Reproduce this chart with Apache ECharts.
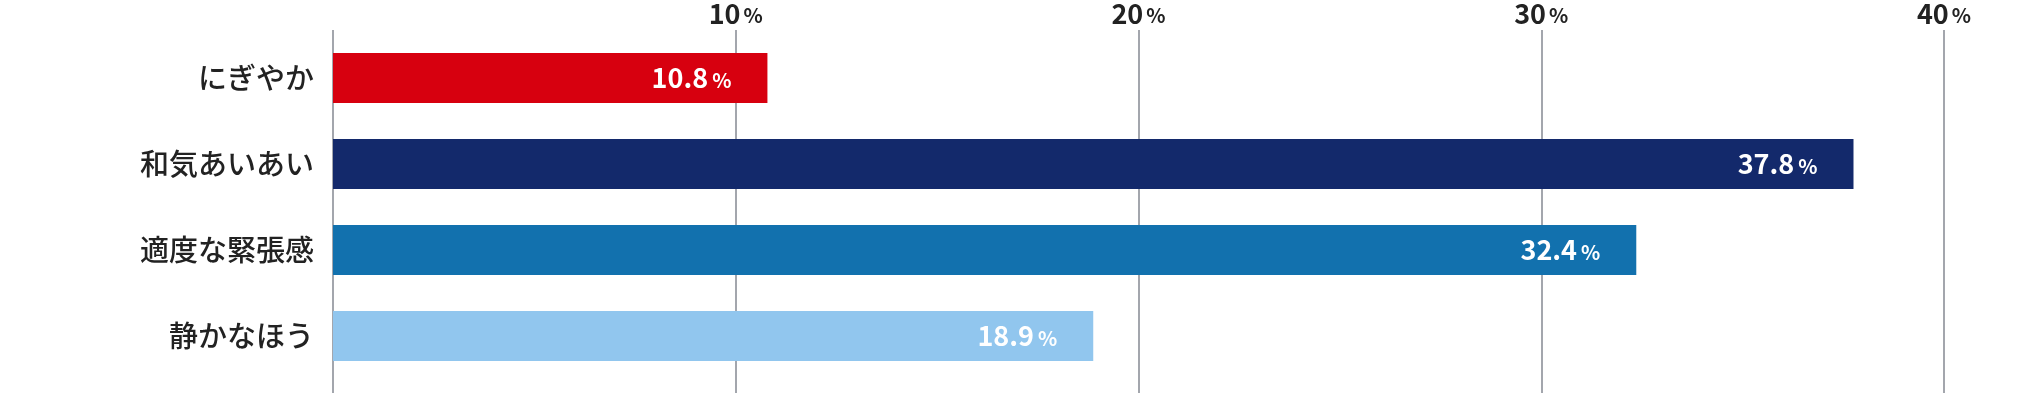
<!DOCTYPE html>
<html>
<head>
<meta charset="utf-8">
<script src="https://cdn.jsdelivr.net/npm/echarts@6/dist/echarts.min.js"></script>
<style>
  html, body { margin: 0; padding: 0; background: #ffffff; }
  #chart { width: 2040px; height: 393px; }
</style>
</head>
<body>
<div id="chart"></div>
<script>
// Data
const categories = ['にぎやか', '和気あいあい', '適度な緊張感', '静かなほう'];
const values = [10.8, 37.8, 32.4, 18.9];
const tickValues = [10, 20, 30, 40];

// Styles
const barColors = ['#d7000f', '#13296b', '#1271ae', '#91c6ee'];
const gridColor = '#a3a6ad';
const font = '"Noto Sans CJK JP", "Noto Sans", sans-serif';

const chart = echarts.init(document.getElementById('chart'), null, { renderer: 'canvas' });

const option = {
  animation: false,
  backgroundColor: '#ffffff',
  grid: [
    { left: 333, right: 96, top: 26, bottom: 0, containLabel: false },
    { left: 333, right: 96, top: 35, bottom: 14, containLabel: false }
  ],
  xAxis: [
    {
      gridIndex: 0,
      type: 'value',
      position: 'top',
      min: 0,
      max: 40,
      interval: 10,
      axisLine: { show: false },
      axisTick: { show: false },
      splitLine: { show: true, lineStyle: { color: gridColor, width: 2 } },
      axisLabel: {
        margin: 3,
        fontFamily: font,
        formatter: function (v) {
          return tickValues.indexOf(v) >= 0 ? '{n|' + v + '}{p|%}' : '';
        },
        rich: {
          n: { fontSize: 27, fontWeight: 'bold', color: '#222222', fontFamily: font },
          p: { fontSize: 20, fontWeight: 'bold', color: '#222222', fontFamily: font, padding: [4, 0, 0, 3] }
        }
      }
    },
    {
      gridIndex: 1,
      type: 'value',
      min: 0,
      max: 40.05,
      show: false
    }
  ],
  yAxis: [
    {
      gridIndex: 0,
      type: 'value',
      show: false
    },
    {
      gridIndex: 1,
      type: 'category',
      inverse: true,
      data: categories,
      axisLine: { show: false },
      axisTick: { show: false },
      axisLabel: {
        margin: 19,
        fontSize: 29,
        fontWeight: 500,
        color: '#222222',
        fontFamily: font
      }
    }
  ],
  series: [
    {
      type: 'bar',
      xAxisIndex: 1,
      yAxisIndex: 1,
      barWidth: 50,
      data: values.map(function (v, i) {
        return { value: v, itemStyle: { color: barColors[i] } };
      }),
      label: {
        show: true,
        position: 'insideRight',
        distance: 36,
        formatter: function (p) { return '{n|' + p.value.toFixed(1) + '}{p|%}'; },
        rich: {
          n: { fontSize: 27, fontWeight: 'bold', color: '#ffffff', fontFamily: font },
          p: { fontSize: 20, fontWeight: 'bold', color: '#ffffff', fontFamily: font, padding: [4, 0, 0, 4] }
        }
      }
    }
  ]
};

chart.setOption(option);
</script>
</body>
</html>
